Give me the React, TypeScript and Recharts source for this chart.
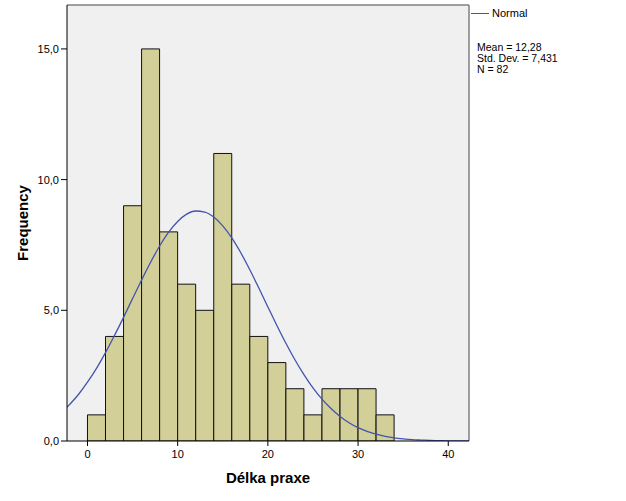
import {
    ComposedChart,
    Bar,
    Line,
    XAxis,
    YAxis,
    CartesianGrid,
    ReferenceLine,
} from 'recharts';

// histogram bins (width 2), centers and counts
const binCenters = [1, 3, 5, 7, 9, 11, 13, 15, 17, 19, 21, 23, 25, 27, 29, 31, 33];
const frequencies = [1, 4, 9, 15, 8, 6, 5, 11, 6, 4, 3, 2, 1, 2, 2, 2, 1];

// fitted normal curve
const curveX = [
    -2.27, -2, -1, 0, 1, 2, 3, 4, 5, 6, 7, 8, 9, 10, 11, 12, 13, 14, 15, 16, 17, 18, 19, 20,
    21, 22, 23, 24, 25, 26, 27, 28, 29, 30, 31, 32, 33, 34, 35, 36, 37, 38, 39, 40, 41, 42, 42.3,
];
const curveY = [
    1.29, 1.39, 1.78, 2.25, 2.78, 3.38, 4.04, 4.73, 5.45, 6.16, 6.84, 7.46, 7.99, 8.4, 8.68,
    8.8, 8.76, 8.57, 8.23, 7.77, 7.2, 6.55, 5.85, 5.13, 4.42, 3.74, 3.11, 2.54, 2.03, 1.6,
    1.24, 0.94, 0.7, 0.51, 0.37, 0.26, 0.18, 0.12, 0.08, 0.05, 0.035, 0.022, 0.014, 0.008,
    0.005, 0.003, 0.002,
];

const xTicks = [0, 10, 20, 30, 40];
const yTicks = [0, 5, 10, 15];
const xDomain = [-2.27, 42.3];
const yDomain = [0, 16.68];
const legendStats = ['Mean = 12,28', 'Std. Dev. = 7,431', 'N = 82'];

const binData = binCenters.map((x, i) => ({ x, count: frequencies[i] }));
const curveData = curveX.map((x, i) => ({ x, normal: curveY[i] }));

const FONT = '"Liberation Sans", Arial, sans-serif';
const CURVE = '#4254AE';

const fmt = (v: number) => v.toFixed(1).replace('.', ',');

const YLabel = (props: any) => {
    const { x, y, height } = props.viewBox;
    const cx = x + 22;
    const cy = y + height / 2;
    return (
        <text
            x={cx}
            y={cy}
            transform={`rotate(-90 ${cx} ${cy})`}
            textAnchor="middle"
            dominantBaseline="central"
            fontFamily={FONT}
            fontSize={15}
            fontWeight="bold"
            fill="#000"
        >
            Frequency
        </text>
    );
};

const XLabel = (props: any) => {
    const { x, y, width } = props.viewBox;
    return (
        <text
            x={x + width / 2}
            y={y + 42}
            textAnchor="middle"
            fontFamily={FONT}
            fontSize={15}
            fontWeight="bold"
            fill="#000"
        >
            Délka praxe
        </text>
    );
};

export default function App() {
    return (
        <div
            style={{
                position: 'absolute',
                left: 0,
                top: 0,
                width: 626,
                height: 501,
                background: '#fff',
                fontFamily: FONT,
            }}
        >
            <ComposedChart
                width={626}
                height={501}
                data={binData}
                margin={{ top: 5, right: 157, bottom: 0, left: 0 }}
                barCategoryGap={0}
                barGap={0}
            >
                <CartesianGrid xAxisId="bins" horizontal={false} vertical={false} fill="#F0F0F0" />
                <XAxis
                    xAxisId="bins"
                    type="number"
                    dataKey="x"
                    domain={xDomain}
                    allowDataOverflow
                    ticks={xTicks}
                    height={60}
                    stroke="#000"
                    tickSize={5}
                    tickMargin={4}
                    tick={{ fill: '#000', fontSize: 11, fontFamily: FONT }}
                    label={{ content: XLabel }}
                />
                <XAxis
                    xAxisId="curve"
                    type="number"
                    dataKey="x"
                    domain={xDomain}
                    allowDataOverflow
                    hide
                />
                <YAxis
                    type="number"
                    domain={yDomain}
                    allowDataOverflow
                    ticks={yTicks}
                    tickFormatter={fmt}
                    width={67}
                    stroke="#000"
                    tickSize={6}
                    tickMargin={2}
                    tick={{ fill: '#000', fontSize: 11, fontFamily: FONT }}
                    label={{ content: YLabel }}
                />
                <ReferenceLine xAxisId="bins" y={yDomain[1]} stroke="#808080" strokeWidth={1.5} />
                <ReferenceLine xAxisId="bins" x={xDomain[1]} stroke="#808080" strokeWidth={1.5} />
                <Bar
                    xAxisId="bins"
                    dataKey="count"
                    fill="#D3CF98"
                    stroke="#111"
                    strokeWidth={1}
                    isAnimationActive={false}
                />
                <Line
                    xAxisId="curve"
                    data={curveData}
                    dataKey="normal"
                    type="monotone"
                    dot={false}
                    activeDot={false}
                    stroke={CURVE}
                    strokeWidth={1.3}
                    isAnimationActive={false}
                />
            </ComposedChart>
            <div style={{ position: 'absolute', left: 471, top: 5, fontSize: 11, color: '#000' }}>
                <div style={{ display: 'flex', alignItems: 'center', height: 16 }}>
                    <span
                        style={{
                            display: 'inline-block',
                            width: 18,
                            height: 0,
                            borderTop: `1.3px solid ${CURVE}`,
                            marginRight: 3,
                        }}
                    />
                    <span>Normal</span>
                </div>
                <div style={{ marginTop: 21, marginLeft: 6, fontSize: 10.5, lineHeight: '11px' }}>
                    {legendStats.map((s) => (
                        <div key={s}>{s}</div>
                    ))}
                </div>
            </div>
        </div>
    );
}
